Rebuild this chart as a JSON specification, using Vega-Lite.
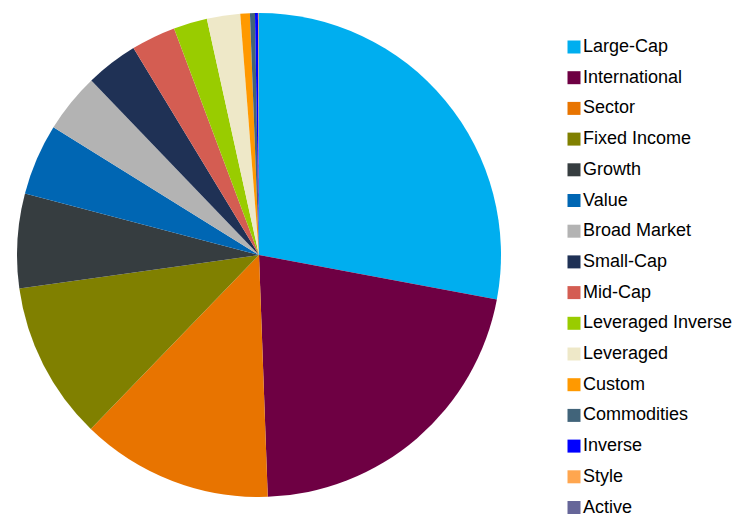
{
  "$schema": "https://vega.github.io/schema/vega-lite/v6.json",
  "width": 518,
  "height": 510,
  "padding": 0,
  "background": "white",
  "config": {"view": {"stroke": null}},
  "data": {"values": [
    {"idx": 1, "category": "Large-Cap", "value": 100.6},
    {"idx": 2, "category": "International", "value": 77.3},
    {"idx": 3, "category": "Sector", "value": 46.1},
    {"idx": 4, "category": "Fixed Income", "value": 38.0},
    {"idx": 5, "category": "Growth", "value": 22.7},
    {"idx": 6, "category": "Value", "value": 17.1},
    {"idx": 7, "category": "Broad Market", "value": 14.3},
    {"idx": 8, "category": "Small-Cap", "value": 12.6},
    {"idx": 9, "category": "Mid-Cap", "value": 10.7},
    {"idx": 10, "category": "Leveraged Inverse", "value": 8.1},
    {"idx": 11, "category": "Leveraged", "value": 8.0},
    {"idx": 12, "category": "Custom", "value": 2.3},
    {"idx": 13, "category": "Commodities", "value": 1.2},
    {"idx": 14, "category": "Inverse", "value": 0.7},
    {"idx": 15, "category": "Style", "value": 0.15},
    {"idx": 16, "category": "Active", "value": 0.1}
  ]},
  "mark": {"type": "arc", "outerRadius": 242},
  "encoding": {
    "theta": {"field": "value", "type": "quantitative", "stack": true},
    "order": {"field": "idx", "type": "quantitative"},
    "color": {
      "field": "category",
      "type": "nominal",
      "scale": {
        "domain": ["Large-Cap", "International", "Sector", "Fixed Income", "Growth", "Value", "Broad Market", "Small-Cap", "Mid-Cap", "Leveraged Inverse", "Leveraged", "Custom", "Commodities", "Inverse", "Style", "Active"],
        "range": ["#00AEEF", "#6E0043", "#E87400", "#808000", "#363D40", "#0066B3", "#B3B3B3", "#1F3155", "#D45D52", "#99CC00", "#EEE8C8", "#FF9900", "#41647A", "#0000FF", "#FFA64F", "#666699"]
      },
      "legend": {
        "title": null,
        "orient": "none",
        "legendX": 565,
        "legendY": 38,
        "symbolType": "square",
        "symbolSize": 169,
        "symbolStrokeWidth": 0,
        "labelFont": "Liberation Sans",
        "labelFontSize": 18,
        "labelColor": "#000000",
        "labelOffset": 0,
        "rowPadding": 12.7,
        "labelLimit": 300
      }
    }
  }
}
